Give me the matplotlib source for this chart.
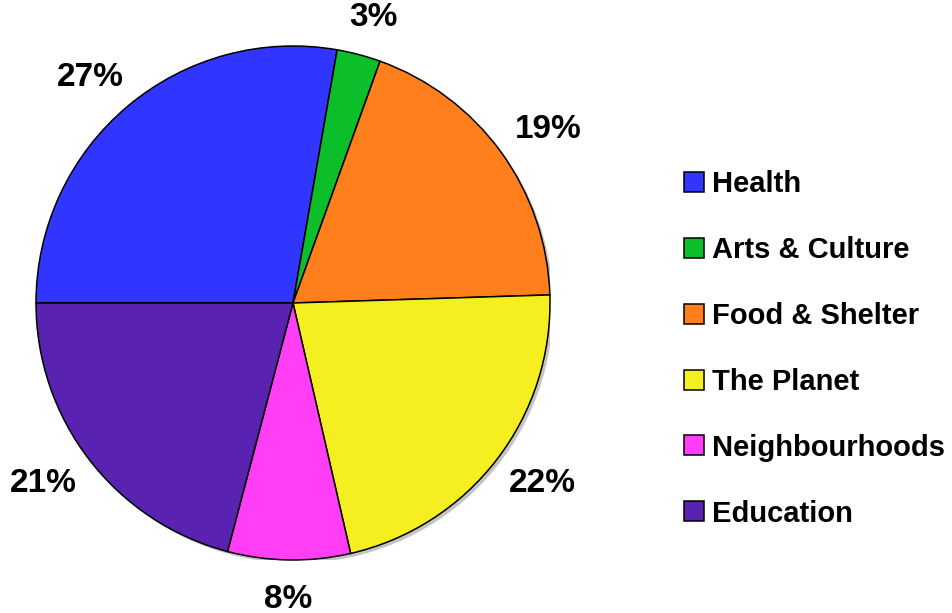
import numpy as np
import matplotlib.pyplot as plt
from matplotlib.patches import Circle

categories = ['Health', 'Arts & Culture', 'Food & Shelter', 'The Planet', 'Neighbourhoods', 'Education']
shares = [27.75, 2.75, 19.0, 21.9, 7.7, 20.9]   # measured slice sizes
pct_labels = ['27%', '3%', '19%', '22%', '8%', '21%']   # as printed on the chart
colors = ['#3035FF', '#0BBE2A', '#FF7F1C', '#F5EF22', '#FF3EF5', '#5A22B0']

plt.rcParams['font.family'] = ['Liberation Sans', 'DejaVu Sans']
plt.rcParams['font.weight'] = 'bold'

fig = plt.figure(figsize=(9.52, 6.13), dpi=100)
ax = fig.add_axes([36 / 952, 53 / 613, 514 / 952, 514 / 613])

# light grey drop shadow behind the pie
ax.add_patch(Circle((0.012, -0.012), 1.0, facecolor='#c4c4c4', edgecolor='none', zorder=0))

wedges, texts = ax.pie(
    shares, colors=colors, startangle=180, counterclock=False,
    labels=pct_labels, labeldistance=1.19, radius=1.0,
    wedgeprops={'edgecolor': 'black', 'linewidth': 1.1},
    textprops={'fontsize': 24, 'fontweight': 'bold', 'color': 'black'})

# labels sit on a slightly wide ellipse around the pie
rx, ry, yc = 1.226, 1.15, -0.002
for w, t in zip(wedges, texts):
    mid = np.deg2rad((w.theta1 + w.theta2) / 2)
    t.set_position((rx * np.cos(mid), yc + ry * np.sin(mid)))
    t.set_ha('center')
    t.set_va('center')

ax.set_xlim(-1, 1)
ax.set_ylim(-1, 1)
ax.set_aspect('equal')
ax.axis('off')

fig.legend(wedges, categories, loc='center left', bbox_to_anchor=(672 / 952, 0.431),
           frameon=False, fontsize=21, handlelength=0.68, handleheight=0.68,
           handletextpad=0.3, labelspacing=1.3, borderaxespad=0)

fig.savefig('out.png', dpi=100)
